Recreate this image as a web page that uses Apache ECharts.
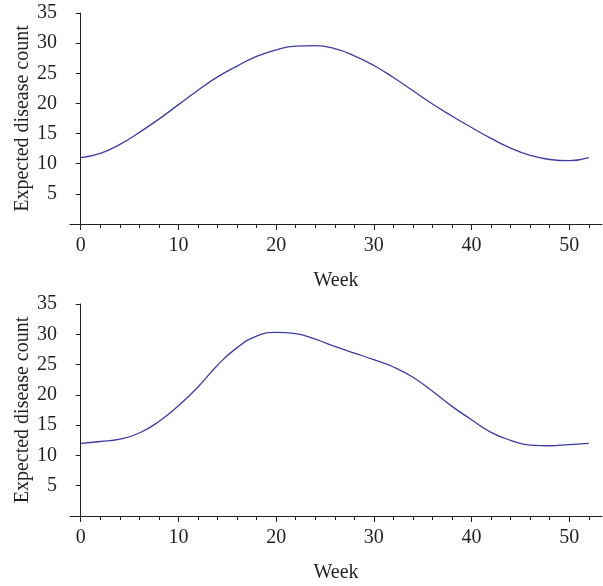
<!DOCTYPE html>
<html>
<head>
<meta charset="utf-8">
<script src="https://cdn.jsdelivr.net/npm/echarts@6/dist/echarts.min.js"></script>
<style>
  html, body { margin: 0; padding: 0; background: #fff; }
  #chart { width: 603px; height: 586px; }
</style>
</head>
<body>
<div id="chart"></div>
<script>
// weeks read every 2 weeks off the curves
const weeks = [0, 2, 4, 6, 8, 10, 12, 14, 16, 18, 20, 22, 24, 26, 28, 30, 32, 34, 36, 38, 40, 42, 44, 46, 48, 50, 52]
const topCounts = [11.0, 11.7, 13.2, 15.2, 17.4, 19.8, 22.2, 24.4, 26.2, 27.8, 28.9, 29.5, 29.6, 29.1, 27.9, 26.3, 24.3, 22.1, 19.9, 17.9, 16.0, 14.2, 12.6, 11.4, 10.7, 10.5, 11.0]
const bottomCounts = [12.0, 12.3, 12.7, 13.7, 15.6, 18.2, 21.3, 24.9, 27.8, 29.7, 30.3, 30.1, 29.2, 28.0, 26.9, 25.8, 24.6, 22.9, 20.6, 18.1, 15.9, 13.8, 12.5, 11.7, 11.6, 11.8, 12.0]

const majorTicks = [0, 10, 20, 30, 40, 50]
const minorTicks = [2, 4, 6, 8, 12, 14, 16, 18, 22, 24, 26, 28, 32, 34, 36, 38, 42, 44, 46, 48, 52]

const fontFamily = 'Liberation Serif'
const textColor = '#231f20'
const lineColor = '#3d3d9e'

const myChart = echarts.init(document.getElementById('chart'))

const grids = [
    { left: 70, right: 1, top: 13, height: 211, outerBoundsMode: 'none', containLabel: false },
    { left: 70, right: 1, top: 304, height: 212, outerBoundsMode: 'none', containLabel: false }
]

function mainX(gridIndex) {
    return {
        type: 'value',
        gridIndex: gridIndex,
        position: 'bottom',
        min: -1.1,
        max: 53.35,
        name: 'Week',
        nameLocation: 'middle',
        nameGap: 47,
        nameMoveOverlap: false,
        nameTextStyle: { color: textColor, fontFamily: fontFamily, fontSize: 20 },
        axisLine: { show: true, onZero: false, lineStyle: { color: textColor, width: 1 } },
        axisTick: { show: true, length: 6, customValues: majorTicks, lineStyle: { color: textColor } },
        axisLabel: { customValues: majorTicks, color: textColor, fontFamily: fontFamily, fontSize: 20, margin: 12 },
        splitLine: { show: false }
    }
}

function minorX(gridIndex) {
    return {
        type: 'value',
        gridIndex: gridIndex,
        position: 'bottom',
        min: -1.1,
        max: 53.35,
        axisLine: { show: false, onZero: false },
        axisTick: { show: true, length: 4, customValues: minorTicks, lineStyle: { color: textColor } },
        axisLabel: { show: false },
        splitLine: { show: false }
    }
}

function yAx(gridIndex) {
    return {
        type: 'value',
        gridIndex: gridIndex,
        min: 0,
        max: 35,
        interval: 5,
        name: 'Expected disease count',
        nameLocation: 'middle',
        nameGap: 37,
        nameMoveOverlap: false,
        nameTextStyle: { color: textColor, fontFamily: fontFamily, fontSize: 20 },
        axisLine: { show: true, onZero: true, onZeroAxisIndex: gridIndex * 2, lineStyle: { color: textColor, width: 1 } },
        axisTick: { show: true, length: 5, lineStyle: { color: textColor } },
        axisLabel: { showMinLabel: false, color: textColor, fontFamily: fontFamily, fontSize: 20, margin: 13 },
        splitLine: { show: false }
    }
}

function lineSeries(xIdx, yIdx, values) {
    return {
        type: 'line',
        xAxisIndex: xIdx,
        yAxisIndex: yIdx,
        smooth: 0.5,
        showSymbol: false,
        symbol: 'none',
        lineStyle: { color: lineColor, width: 1.3 },
        data: weeks.map((w, i) => [w, values[i]])
    }
}

const option = {
    animation: false,
    backgroundColor: '#fff',
    grid: grids,
    xAxis: [mainX(0), minorX(0), mainX(1), minorX(1)],
    yAxis: [yAx(0), yAx(1)],
    series: [
        lineSeries(0, 0, topCounts),
        lineSeries(2, 1, bottomCounts)
    ]
}
myChart.setOption(option)
</script>
</body>
</html>
